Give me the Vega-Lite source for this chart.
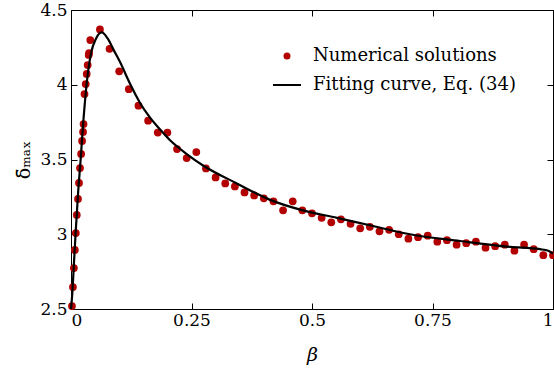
{
  "$schema": "https://vega.github.io/schema/vega-lite/v6.json",
  "autosize": "none",
  "width": 482,
  "height": 299,
  "padding": {"left": 71, "top": 10, "right": 1, "bottom": 63},
  "background": "white",
  "config": {
    "view": {"stroke": "#000000", "strokeWidth": 1},
    "font": "DejaVu Serif",
    "axis": {
      "labelFont": "DejaVu Serif",
      "labelFontSize": 17,
      "labelColor": "#000000",
      "tickColor": "#000000",
      "tickSize": -6,
      "tickWidth": 1,
      "domain": false,
      "grid": false,
      "titleFont": "DejaVu Serif",
      "titleFontWeight": "normal",
      "titleColor": "#000000",
      "titleFontSize": 19
    },
    "legend": {
      "labelFont": "DejaVu Serif",
      "labelFontSize": 18,
      "labelColor": "#000000",
      "labelLimit": 0,
      "padding": 0
    }
  },
  "datasets": {
    "pts": [
      {"b": 0.002, "v": 2.52}, {"b": 0.004, "v": 2.647}, {"b": 0.006, "v": 2.774}, {"b": 0.008, "v": 2.895},
      {"b": 0.010, "v": 3.008}, {"b": 0.012, "v": 3.129}, {"b": 0.0145, "v": 3.236}, {"b": 0.0166, "v": 3.343},
      {"b": 0.0187, "v": 3.443}, {"b": 0.021, "v": 3.537}, {"b": 0.023, "v": 3.624}, {"b": 0.025, "v": 3.684},
      {"b": 0.026, "v": 3.737}, {"b": 0.028, "v": 3.938}, {"b": 0.0305, "v": 4.005}, {"b": 0.0326, "v": 4.072},
      {"b": 0.0346, "v": 4.132}, {"b": 0.0367, "v": 4.199}, {"b": 0.0375, "v": 4.212}, {"b": 0.040, "v": 4.299},
      {"b": 0.06, "v": 4.37}, {"b": 0.08, "v": 4.24}, {"b": 0.10, "v": 4.09}, {"b": 0.12, "v": 3.97},
      {"b": 0.14, "v": 3.86}, {"b": 0.16, "v": 3.76}, {"b": 0.18, "v": 3.68}, {"b": 0.20, "v": 3.68},
      {"b": 0.22, "v": 3.57}, {"b": 0.24, "v": 3.51}, {"b": 0.26, "v": 3.55}, {"b": 0.28, "v": 3.44},
      {"b": 0.30, "v": 3.38}, {"b": 0.32, "v": 3.34}, {"b": 0.34, "v": 3.32}, {"b": 0.36, "v": 3.28},
      {"b": 0.38, "v": 3.26}, {"b": 0.40, "v": 3.24}, {"b": 0.42, "v": 3.22}, {"b": 0.44, "v": 3.16},
      {"b": 0.46, "v": 3.22}, {"b": 0.48, "v": 3.16}, {"b": 0.50, "v": 3.14}, {"b": 0.52, "v": 3.11},
      {"b": 0.54, "v": 3.08}, {"b": 0.56, "v": 3.10}, {"b": 0.58, "v": 3.07}, {"b": 0.60, "v": 3.04},
      {"b": 0.62, "v": 3.05}, {"b": 0.64, "v": 3.02}, {"b": 0.66, "v": 3.03}, {"b": 0.68, "v": 3.00},
      {"b": 0.70, "v": 2.97}, {"b": 0.72, "v": 2.98}, {"b": 0.74, "v": 2.99}, {"b": 0.76, "v": 2.95},
      {"b": 0.78, "v": 2.96}, {"b": 0.80, "v": 2.93}, {"b": 0.82, "v": 2.94}, {"b": 0.84, "v": 2.95},
      {"b": 0.86, "v": 2.91}, {"b": 0.88, "v": 2.92}, {"b": 0.90, "v": 2.93}, {"b": 0.92, "v": 2.89},
      {"b": 0.94, "v": 2.93}, {"b": 0.96, "v": 2.90}, {"b": 0.98, "v": 2.86}, {"b": 1.00, "v": 2.86}
    ],
    "curve": [
      {"b": 0.0, "v": 2.50}, {"b": 0.003, "v": 2.62}, {"b": 0.006, "v": 2.80}, {"b": 0.010, "v": 3.03},
      {"b": 0.015, "v": 3.29}, {"b": 0.020, "v": 3.50}, {"b": 0.0243, "v": 3.70}, {"b": 0.0326, "v": 4.01},
      {"b": 0.0415, "v": 4.21}, {"b": 0.052, "v": 4.31}, {"b": 0.064, "v": 4.35}, {"b": 0.076, "v": 4.31},
      {"b": 0.089, "v": 4.23}, {"b": 0.102, "v": 4.15}, {"b": 0.122, "v": 4.01}, {"b": 0.143, "v": 3.88},
      {"b": 0.164, "v": 3.78}, {"b": 0.185, "v": 3.70}, {"b": 0.205, "v": 3.63}, {"b": 0.243, "v": 3.53},
      {"b": 0.274, "v": 3.46}, {"b": 0.344, "v": 3.34}, {"b": 0.413, "v": 3.23}, {"b": 0.481, "v": 3.16},
      {"b": 0.552, "v": 3.11}, {"b": 0.62, "v": 3.06}, {"b": 0.703, "v": 3.00}, {"b": 0.807, "v": 2.955},
      {"b": 0.911, "v": 2.915}, {"b": 0.973, "v": 2.90}, {"b": 0.99, "v": 2.89}, {"b": 1.0, "v": 2.87}
    ]
  },
  "layer": [
    {
      "data": {"name": "pts"},
      "mark": {"type": "point", "filled": true, "size": 60, "opacity": 1},
      "encoding": {
        "x": {"field": "b", "type": "quantitative",
              "scale": {"domain": [0, 1], "nice": false, "zero": false},
              "axis": {"orient": "bottom", "values": [0, 0.25, 0.5, 0.75, 1], "labelExpr": "datum.value + ''",
                       "title": "β", "titleFontStyle": "italic", "labelPadding": 9, "titlePadding": 17}},
        "y": {"field": "v", "type": "quantitative",
              "scale": {"domain": [2.5, 4.5], "nice": false, "zero": false},
              "axis": {"orient": "left", "values": [2.5, 3, 3.5, 4, 4.5], "labelExpr": "datum.value + ''",
                       "title": "δ̄ₘₐₓ", "labelPadding": 10, "titlePadding": 6}},
        "color": {"datum": "Numerical solutions", "type": "nominal",
                  "scale": {"domain": ["Numerical solutions", "Fitting curve, Eq. (34)"], "range": ["#b30000", "#000000"]},
                  "legend": {
                    "orient": "none", "legendX": 201, "legendY": 31, "title": null,
                    "symbolSize": 784, "labelOffset": 11, "rowPadding": 5, "labelLimit": 0,
                    "encode": {"symbols": {"update": {
                      "shape": {"signal": "datum.value === 'Numerical solutions' ? 'circle' : 'stroke'"},
                      "size": {"signal": "datum.value === 'Numerical solutions' ? 25 : 784"},
                      "strokeWidth": {"value": 2},
                      "stroke": {"signal": "datum.value === 'Numerical solutions' ? 'transparent' : '#000000'"},
                      "fill": {"signal": "datum.value === 'Numerical solutions' ? '#b30000' : 'transparent'"},
                      "opacity": {"value": 1}
                    }}}
                  }}
      }
    },
    {
      "data": {"name": "curve"},
      "mark": {"type": "line", "strokeWidth": 2.2, "interpolate": "monotone"},
      "encoding": {
        "x": {"field": "b", "type": "quantitative",
              "axis": {"orient": "top", "values": [0, 0.25, 0.5, 0.75, 1], "labels": false, "title": null}},
        "y": {"field": "v", "type": "quantitative",
              "axis": {"orient": "right", "values": [2.5, 3, 3.5, 4, 4.5], "labels": false, "title": null}},
        "color": {"datum": "Fitting curve, Eq. (34)", "type": "nominal",
                  "legend": {
                    "orient": "none", "legendX": 201, "legendY": 31, "title": null,
                    "symbolSize": 784, "labelOffset": 11, "rowPadding": 5, "labelLimit": 0,
                    "encode": {"symbols": {"update": {
                      "shape": {"signal": "datum.value === 'Numerical solutions' ? 'circle' : 'stroke'"},
                      "size": {"signal": "datum.value === 'Numerical solutions' ? 25 : 784"},
                      "strokeWidth": {"value": 2},
                      "stroke": {"signal": "datum.value === 'Numerical solutions' ? 'transparent' : '#000000'"},
                      "fill": {"signal": "datum.value === 'Numerical solutions' ? '#b30000' : 'transparent'"},
                      "opacity": {"value": 1}
                    }}}
                  }}
      }
    }
  ],
  "resolve": {"axis": {"x": "independent", "y": "independent"}}
}
